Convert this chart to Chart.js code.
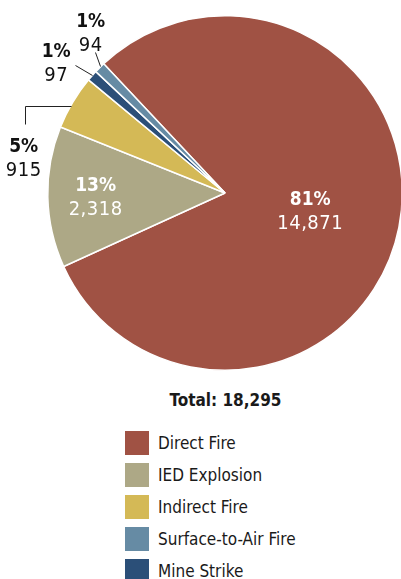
<!DOCTYPE html>
<html>
<head>
<meta charset="utf-8">
<script src="https://cdn.jsdelivr.net/npm/chart.js@4/dist/chart.umd.min.js"></script>
<style>
  body { margin: 0; background: #fff; width: 401px; height: 579px; overflow: hidden; position: relative;
         font-family: "DejaVu Sans Condensed", "Liberation Sans Narrow", sans-serif; color: #1a1a1a; }
  #wrap { position: absolute; left: 0; top: 0; width: 403px; height: 380px; }
  #total { position: absolute; left: 0; width: 451px; top: 390px; text-align: center; font-weight: bold;
           font-size: 17px; }
  #legend { position: absolute; left: 125px; top: 431px; }
  .item { height: 32px; display: flex; align-items: flex-start; }
  .box { width: 24px; height: 24px; margin-right: 9px; }
  .lbl { font-size: 17px; line-height: 24px; }
</style>
</head>
<body>
<div id="wrap"><canvas id="pie" width="403" height="380"></canvas></div>
<div id="total"></div>
<div id="legend"></div>
<script>
// legend order
const categories = ['Direct Fire', 'IED Explosion', 'Indirect Fire', 'Surface-to-Air Fire', 'Mine Strike'];
const casualties = [14871, 2318, 915, 94, 97];
// the slices are drawn from the rounded shares printed on them
const shares = [81, 13, 5, 1, 1];
const colors = ['#a05244', '#ada886', '#d4b956', '#668ba4', '#2b4f78'];
// order the slices run clockwise in the pie
const pieOrder = ['Direct Fire', 'IED Explosion', 'Indirect Fire', 'Mine Strike', 'Surface-to-Air Fire'];

const idx = pieOrder.map(c => categories.indexOf(c));
const total = casualties.reduce((a, b) => a + b, 0);
const fmt = n => n.toLocaleString('en-US');

document.getElementById('total').textContent = 'Total: ' + fmt(total);
const legend = document.getElementById('legend');
categories.forEach((c, i) => {
  const row = document.createElement('div');
  row.className = 'item';
  row.innerHTML = '<div class="box" style="background:' + colors[i] + '"></div><div class="lbl">' + c + '</div>';
  legend.appendChild(row);
});

// label placement per slice (offsets from the slice's outer mid point)
const labelStyle = {
  'Direct Fire': { inside: 0.49 },
  'IED Explosion': { inside: 0.73 },
  'Indirect Fire': { leader: [[-2, 4], [-48, 4], [-48, 22]], text: [-49, 55] },
  'Mine Strike': { leader: [[0, -1], [-17, -11]], text: [-36, -14] },
  'Surface-to-Air Fire': { leader: [[0, -2], [-5, -16]], text: [-9, -36] }
};

const FONT = '"DejaVu Sans Condensed", "Liberation Sans Narrow", sans-serif';

const sliceLabels = {
  id: 'sliceLabels',
  afterDatasetsDraw(chart) {
    const ctx = chart.ctx;
    const arcs = chart.getDatasetMeta(0).data;
    ctx.save();
    ctx.textAlign = 'center';
    ctx.textBaseline = 'alphabetic';
    arcs.forEach((arc, k) => {
      const i = idx[k];
      const st = labelStyle[categories[i]];
      const mid = (arc.startAngle + arc.endAngle) / 2;
      let cx, cy, color;
      if (st.inside) {
        cx = arc.x + Math.cos(mid) * arc.outerRadius * st.inside;
        cy = arc.y + Math.sin(mid) * arc.outerRadius * st.inside;
        color = '#fff';
      } else {
        const ex = arc.x + Math.cos(mid) * arc.outerRadius;
        const ey = arc.y + Math.sin(mid) * arc.outerRadius;
        ctx.strokeStyle = '#222';
        ctx.lineWidth = 1;
        ctx.beginPath();
        st.leader.forEach((p, j) => {
          const px = Math.round(ex + p[0]) + 0.5, py = Math.round(ey + p[1]) + 0.5;
          j ? ctx.lineTo(px, py) : ctx.moveTo(px, py);
        });
        ctx.stroke();
        cx = ex + st.text[0];
        cy = ey + st.text[1];
        color = '#111';
      }
      ctx.fillStyle = color;
      ctx.letterSpacing = '0px';
      ctx.font = 'bold 19px ' + FONT;
      ctx.fillText(shares[i] + '%', cx, cy - 5);
      ctx.letterSpacing = '0.5px';
      ctx.font = '20px ' + FONT;
      ctx.fillText(fmt(casualties[i]), cx, cy + 19);
    });
    ctx.restore();
  }
};

new Chart(document.getElementById('pie'), {
  type: 'pie',
  data: {
    labels: pieOrder,
    datasets: [{
      data: idx.map(i => shares[i]),
      backgroundColor: idx.map(i => colors[i]),
      borderColor: '#fff',
      borderWidth: 1.5
    }]
  },
  options: {
    responsive: false,
    animation: false,
    rotation: -43.2,
    layout: { padding: { left: 47, top: 15, right: 0, bottom: 9 } },
    plugins: { legend: { display: false }, tooltip: { enabled: false } }
  },
  plugins: [sliceLabels]
});
</script>
</body>
</html>
